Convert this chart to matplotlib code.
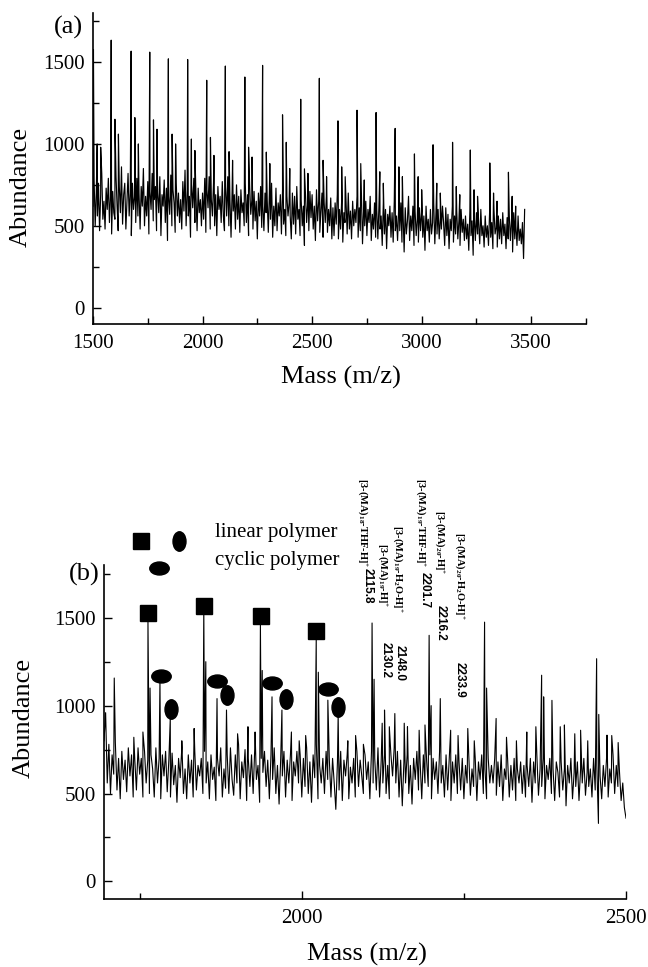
import numpy as np
import matplotlib
matplotlib.use('Agg')
import matplotlib.pyplot as plt
from matplotlib.path import Path
from matplotlib.transforms import Affine2D
from matplotlib.ticker import MultipleLocator

plt.rcParams['font.family'] = ['Liberation Serif', 'DejaVu Serif']
plt.rcParams['mathtext.default'] = 'regular'

W, H = 648, 967

# ---- (a) полный спектр 1500-3470, шаг 5 ----
A_START, A_STEP = 1500, 5
noise_a = [
    620, 780, 500, 700, 560, 760, 470, 690, 820, 540, 650, 480, 730, 600, 790, 520, 680, 450, 710, 580,
    540, 800, 620, 470, 740, 580, 860, 510, 690, 760, 480, 650, 820, 560, 700, 440, 760, 600, 680, 520,
    790, 560, 700, 480, 740, 620, 850, 500, 680, 560, 770, 450, 710, 600, 820, 530, 660, 740, 470, 700,
    580, 800, 440, 690, 620, 780, 520, 730, 410, 680, 570, 810, 500, 720, 640, 460, 760, 560, 700, 520,
    660, 480, 770, 590, 840, 500, 720, 560, 680, 430, 750, 610, 790, 520, 680, 470, 730, 580, 660, 500,
    700, 540, 790, 460, 720, 610, 800, 480, 660, 560, 760, 500, 690, 440, 740, 600, 680, 520, 770, 560,
    470, 740, 560, 800, 500, 660, 430, 720, 590, 690, 480, 750, 540, 680, 460, 720, 580, 640, 500, 760,
    520, 690, 440, 740, 570, 660, 480, 710, 530, 650, 420, 700, 560, 740, 490, 620, 470, 700, 580, 660,
    460, 700, 540, 760, 430, 620, 500, 730, 470, 640, 560, 690, 450, 720, 510, 600, 440, 680, 560, 640,
    560, 420, 700, 510, 680, 450, 740, 540, 600, 440, 660, 500, 620, 380, 690, 520, 640, 470, 710, 550,
    690, 480, 620, 410, 720, 530, 650, 460, 580, 700, 430, 640, 520, 680, 460, 600, 500, 670, 420, 610,
    440, 640, 510, 690, 420, 600, 480, 660, 400, 580, 520, 640, 450, 700, 480, 590, 420, 650, 500, 600,
    520, 680, 430, 610, 470, 700, 390, 590, 500, 650, 440, 600, 520, 680, 410, 570, 480, 640, 430, 600,
    420, 620, 480, 560, 380, 640, 450, 600, 360, 570, 500, 620, 430, 580, 400, 650, 470, 560, 410, 600,
    470, 640, 400, 580, 340, 610, 450, 530, 680, 410, 560, 470, 620, 380, 590, 440, 540, 400, 610, 470,
    590, 430, 560, 350, 620, 470, 540, 400, 600, 450, 520, 640, 390, 570, 450, 600, 420, 550, 480, 620,
    520, 380, 610, 440, 570, 360, 540, 470, 620, 400, 560, 450, 590, 420, 530, 380, 600, 460, 540, 410,
    560, 420, 510, 350, 590, 440, 530, 320, 560, 410, 580, 450, 520, 390, 600, 440, 500, 370, 560, 430,
    500, 380, 580, 430, 520, 360, 600, 450, 490, 370, 560, 420, 540, 390, 580, 440, 510, 360, 550, 420,
    560, 410, 530, 340, 580, 420, 500, 380, 560, 410, 480, 390, 520, 300, 600,
]
main_a_mz = [1502, 1583, 1674, 1759, 1844, 1932, 2019, 2104, 2193, 2274, 2365, 2448,
             2533, 2618, 2705, 2792, 2879, 2967, 3052, 3141, 3222, 3311, 3396]
main_a_ab = [1577, 1634, 1567, 1561, 1520, 1516, 1389, 1476, 1409, 1480, 1178, 1273,
             1401, 1141, 1206, 1192, 1095, 939, 995, 1010, 963, 884, 827]
sec1_a_mz = [1519, 1600, 1691, 1776, 1861, 1949, 2036, 2121, 2210, 2291, 2382, 2465,
             2550, 2635, 2722, 2809, 2896, 2984, 3069, 3158, 3239, 3328, 3413]
sec1_a_ab = [1000, 1151, 1161, 1147, 1060, 1030, 1040, 953, 980, 950, 1010, 848,
             900, 860, 880, 830, 860, 800, 760, 740, 720, 700, 680]
sec2_a_mz = [1535, 1616, 1707, 1792, 1877, 1965, 2052, 2137, 2226, 2307, 2398, 2481,
             2566, 2651, 2738, 2825, 2912, 3000, 3085, 3174, 3255, 3344, 3429]
sec2_a_ab = [980, 1060, 1000, 1090, 1000, 960, 930, 900, 920, 880, 850, 820,
             800, 800, 780, 760, 800, 720, 700, 690, 680, 650, 620]

# ---- (b) участок 1695-2500, шаг 2.5 ----
B_START, B_STEP = 1695, 2.5
noise_b = [
    800, 960, 560, 780, 500, 720, 610, 790, 520, 700, 470, 740, 580, 690, 510, 760, 600, 720, 480, 690,
    520, 760, 610, 700, 480, 740, 560, 690, 500, 720, 640, 480, 760, 560, 700, 470, 720, 600, 740, 510,
    690, 480, 730, 550, 660, 450, 700, 590, 760, 500, 640, 470, 720, 560, 690, 480, 740, 520, 660, 600,
    700, 500, 740, 560, 680, 470, 720, 580, 650, 460, 700, 600, 760, 480, 640, 530, 720, 500, 760, 580,
    490, 720, 560, 780, 470, 680, 590, 750, 460, 700, 540, 720, 500, 760, 580, 660, 450, 700, 620, 740,
    540, 690, 470, 720, 580, 760, 500, 660, 440, 700, 600, 740, 480, 690, 560, 720, 460, 680, 600, 740,
    560, 720, 480, 700, 540, 760, 500, 680, 450, 720, 590, 780, 470, 660, 560, 700, 500, 740, 580, 690,
    480, 700, 560, 410, 680, 520, 740, 460, 690, 600, 720, 470, 650, 560, 700, 480, 740, 540, 690, 600,
    500, 720, 580, 680, 470, 740, 560, 700, 520, 760, 480, 690, 560, 720, 500, 660, 470, 720, 600, 760,
    560, 740, 480, 690, 430, 680, 560, 720, 500, 660, 440, 700, 580, 740, 520, 680, 470, 720, 560, 690,
    540, 720, 470, 700, 580, 680, 500, 740, 560, 660, 480, 720, 520, 700, 460, 680, 560, 720, 500, 680,
    520, 700, 470, 660, 560, 720, 490, 640, 540, 700, 460, 680, 580, 720, 500, 640, 470, 700, 560, 660,
    560, 700, 490, 680, 540, 720, 460, 640, 580, 690, 480, 660, 520, 700, 460, 640, 560, 680, 500, 660,
    480, 660, 540, 700, 450, 680, 560, 720, 490, 640, 540, 700, 470, 660, 580, 700, 500, 640, 460, 680,
    620, 480, 680, 520, 640, 430, 660, 560, 700, 470, 620, 540, 680, 460, 640, 560, 700, 490, 620, 540,
    640, 480, 700, 520, 660, 330, 600, 470, 660, 540, 700, 480, 640, 560, 720, 500, 660, 540, 620, 460,
    560, 420, 360,
]
main_b_mz = [1762.8, 1848.9, 1936.2, 2022.3, 2108.4, 2196.4, 2281.9, 2369.9, 2454.7]
main_b_ab = [1485, 1560, 1466, 1381, 1470, 1400, 1475, 1173, 1267]
shoulder_b_mz = [1766, 1852, 1939, 2025.5, 2111.5, 2199.5, 2285, 2373, 2458]
shoulder_b_ab = [1100, 1250, 1200, 1190, 1150, 1000, 1100, 1050, 950]
cyc1_b_mz = [1781.3, 1869.3, 1954.1, 2040.2, 2127.6, 2213.6, 2299.7, 2385.8, 2470.7]
cyc1_b_ab = [1144, 1040, 1050, 1031, 975, 1040, 927, 1030, 832]
cyc2_b_mz = [1797.2, 1883.9, 1969.4, 2056.1, 2143.5, 2229.6, 2315.7, 2398.6, 2487.9]
cyc2_b_ab = [927, 975, 975, 946, 955, 860, 820, 880, 790]
minor_b_mz = [1710.8, 1741, 1755, 1815, 1834, 1901, 1917, 1928, 1984, 1996, 2006, 2071,
              2083, 2095, 2124, 2135, 2158, 2163, 2181, 2190, 2241, 2256, 2266, 2331,
              2347, 2361, 2405, 2421, 2430, 2441, 2478]
minor_b_ab = [1157, 820, 850, 800, 870, 840, 880, 850, 850, 800, 830, 800,
              830, 780, 900, 880, 900, 880, 860, 890, 830, 870, 800, 800,
              850, 880, 890, 840, 860, 800, 830]

# маркеры над пиками
square_mz = [1762.8, 1849.2, 1936.7, 2022.7]
square_ab = [1526, 1568, 1511, 1422]
hell_mz = [1783.5, 1869.3, 1954.8, 2040.6]
hell_ab = [1171, 1139, 1130, 1096]
vell_mz = [1799, 1885.3, 1975.3, 2056]
vell_ab = [983, 1058, 1036, 992]

ion_labels = ['[3-(MA)$_{18}$-THF-H]$^{+}$', '[3-(MA)$_{19}$-H]$^{+}$',
              '[3-(MA)$_{19}$-H$_{2}$O-H]$^{+}$', '[3-(MA)$_{19}$-THF-H]$^{+}$',
              '[3-(MA)$_{20}$-H]$^{+}$', '[3-(MA)$_{20}$-H$_{2}$O-H]$^{+}$']
ion_masses = ['2115.8', '2130.2', '2148.0', '2201.7', '2216.2', '2233.9']
# позиции подписей в пикселях (x центра, верх)
ion_label_px = [(363, 478), (383, 543), (398, 525), (421, 478), (440, 510), (460, 532)]
ion_mass_px = [(368, 568), (386, 642), (400, 645), (425, 572), (441, 605), (460, 662)]


def build_spectrum(start, step, noise, groups):
    xs = [start + step * i for i in range(len(noise))]
    ys = list(noise)
    for mz, ab in groups:
        xs += list(mz)
        ys += list(ab)
    order = np.argsort(xs, kind='stable')
    return np.asarray(xs, float)[order], np.asarray(ys, float)[order]


def style_axes(ax, xlim):
    ax.set_xlim(*xlim)
    ax.set_ylim(-100, 1800)
    ax.spines[['top', 'right']].set_visible(False)
    for s in ('left', 'bottom'):
        ax.spines[s].set_linewidth(1.2)
    ax.xaxis.set_major_locator(MultipleLocator(500))
    ax.xaxis.set_minor_locator(MultipleLocator(250))
    ax.yaxis.set_major_locator(MultipleLocator(500))
    ax.yaxis.set_minor_locator(MultipleLocator(250))
    ax.tick_params(which='both', direction='in', width=1, labelsize=15)
    ax.tick_params(which='major', length=6)
    ax.tick_params(which='minor', length=4)
    ax.tick_params(axis='x', pad=7)
    ax.tick_params(axis='y', pad=6)


def px_text(fig, x, y, s, **kw):
    fig.text(x / W, 1 - y / H, s, **kw)


def main():
    fig = plt.figure(figsize=(W / 100, H / 100), dpi=100)
    ax_a = fig.add_axes([93 / W, 1 - 324 / H, (586 - 93) / W, (324 - 13) / H])
    ax_b = fig.add_axes([104 / W, 1 - 899 / H, (626 - 104) / W, (899 - 565) / H])

    # (a)
    xa, ya = build_spectrum(A_START, A_STEP, noise_a,
                            [(main_a_mz, main_a_ab), (sec1_a_mz, sec1_a_ab), (sec2_a_mz, sec2_a_ab)])
    ax_a.plot(xa, ya, color='black', lw=0.85)
    style_axes(ax_a, (1500, 3750))
    ax_a.set_ylabel('Abundance', fontsize=19)
    ax_a.set_xlabel('Mass (m/z)', fontsize=19)
    ax_a.yaxis.set_label_coords(-0.124, 0.44)
    ax_a.xaxis.set_label_coords(0.503, -0.135)

    # (b)
    xb, yb = build_spectrum(B_START, B_STEP, noise_b,
                            [(main_b_mz, main_b_ab), (shoulder_b_mz, shoulder_b_ab),
                             (cyc1_b_mz, cyc1_b_ab), (cyc2_b_mz, cyc2_b_ab),
                             (minor_b_mz, minor_b_ab)])
    ax_b.plot(xb, yb, color='black', lw=0.8)
    style_axes(ax_b, (1695, 2500))
    ax_b.set_ylabel('Abundance', fontsize=19)
    ax_b.set_xlabel('Mass (m/z)', fontsize=19)
    ax_b.yaxis.set_label_coords(-0.132, 0.542)
    ax_b.xaxis.set_label_coords(0.504, -0.13)

    h_ell = Affine2D().scale(1.5, 1.0).transform_path(Path.unit_circle())
    v_ell = Affine2D().scale(1.0, 1.5).transform_path(Path.unit_circle())
    ax_b.plot(square_mz, square_ab, 's', color='black', ms=12, clip_on=False)
    ax_b.plot(hell_mz, hell_ab, linestyle='none', marker=h_ell, color='black', ms=14, clip_on=False)
    ax_b.plot(vell_mz, vell_ab, linestyle='none', marker=v_ell, color='black', ms=14, clip_on=False)

    # легенда
    ax_b.plot([1752.6], [1939], 's', color='black', ms=12, clip_on=False)
    ax_b.plot([1810], [1935], linestyle='none', marker=v_ell, color='black', ms=14, clip_on=False)
    ax_b.plot([1779.8], [1781], linestyle='none', marker=h_ell, color='black', ms=14, clip_on=False)
    px_text(fig, 215, 532, 'linear polymer', fontsize=15, ha='left', va='center')
    px_text(fig, 215, 560, 'cyclic polymer', fontsize=15, ha='left', va='center')

    for s, (x, y) in zip(ion_labels, ion_label_px):
        px_text(fig, x, y, s, fontsize=7.5, fontweight='bold', rotation=-90, ha='center', va='top')
    for s, (x, y) in zip(ion_masses, ion_mass_px):
        px_text(fig, x, y, s, fontsize=8.5, fontweight='bold', family='Liberation Sans',
                rotation=-90, ha='center', va='top')

    px_text(fig, 68, 27, '(a)', fontsize=19, ha='center', va='center')
    px_text(fig, 84, 574, '(b)', fontsize=19, ha='center', va='center')

    fig.savefig('out.png', dpi=100)


if __name__ == '__main__':
    main()
